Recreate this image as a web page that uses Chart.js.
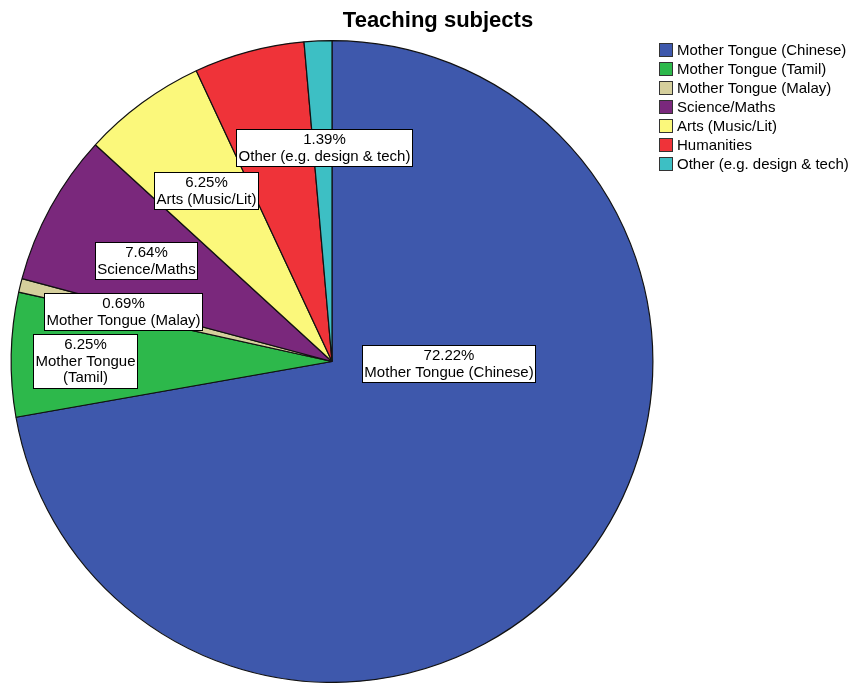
<!DOCTYPE html>
<html><head><meta charset="utf-8">
<script src="https://cdn.jsdelivr.net/npm/chart.js@4/dist/chart.umd.min.js"></script>
<style>html,body{margin:0;padding:0;background:#fff}canvas{display:block}</style>
</head><body>
<canvas id="c" width="855" height="683"></canvas>
<script>
const categories = ['Mother Tongue (Chinese)','Mother Tongue (Tamil)','Mother Tongue (Malay)','Science/Maths','Arts (Music/Lit)','Humanities','Other (e.g. design & tech)'];
const percentages = [72.22, 6.25, 0.69, 7.64, 6.25, 5.56, 1.39];
const colors = ['#3E58AC','#2DB84B','#D5CF9C','#7A287C','#FBF87B','#EF3339','#3DBFC4'];
// label display: lines of category name (null = label hidden), and placement as fraction of radius from center
const labelNameLines = [['Mother Tongue (Chinese)'],['Mother Tongue','(Tamil)'],['Mother Tongue (Malay)'],['Science/Maths'],['Arts (Music/Lit)'],null,['Other (e.g. design & tech)']];
const labelOffsets = [[0.364,0.006],[-0.769,-0.003],[-0.651,-0.156],[-0.579,-0.315],[-0.393,-0.533],null,[-0.025,-0.667]];

const FONT = '"Liberation Sans", Arial, sans-serif';

const overlay = {
  id: 'overlay',
  afterDraw(chart) {
    const ctx = chart.ctx;
    const meta = chart.getDatasetMeta(0);
    const arc0 = meta.data[0];
    const cx = arc0.x, cy = arc0.y, r = arc0.outerRadius;
    ctx.save();
    // Title
    ctx.fillStyle = '#000';
    ctx.font = 'bold 22px ' + FONT;
    ctx.textAlign = 'center';
    ctx.textBaseline = 'middle';
    ctx.fillText('Teaching subjects', 438, 21);
    // Slice labels
    ctx.font = '15px ' + FONT;
    const lh = 16.5;
    percentages.forEach((v, i) => {
      if (!labelNameLines[i]) return;
      const lines = [v.toFixed(2) + '%'].concat(labelNameLines[i]);
      const w = Math.max(...lines.map(l => ctx.measureText(l).width)) + 4;
      const h = lines.length * lh + 4;
      const x = cx + labelOffsets[i][0] * r, y = cy + labelOffsets[i][1] * r;
      const bx = Math.round(x - w / 2) + 0.5, by = Math.round(y - h / 2) + 0.5;
      ctx.fillStyle = '#fff';
      ctx.fillRect(bx, by, Math.round(w), Math.round(h));
      ctx.strokeStyle = '#000';
      ctx.lineWidth = 1;
      ctx.strokeRect(bx, by, Math.round(w), Math.round(h));
      ctx.fillStyle = '#000';
      lines.forEach((l, k) => ctx.fillText(l, bx + Math.round(w) / 2, by + 2.5 + lh / 2 + k * lh));
    });
    // Legend
    ctx.textAlign = 'left';
    ctx.font = '15px ' + FONT;
    chart.data.labels.forEach((lab, i) => {
      const y = 50 + i * 19;
      ctx.fillStyle = colors[i];
      ctx.fillRect(659.5, y - 6.5, 13, 13);
      ctx.strokeStyle = '#333';
      ctx.strokeRect(659.5, y - 6.5, 13, 13);
      ctx.fillStyle = '#000';
      ctx.fillText(lab, 677, y + 1);
    });
    ctx.restore();
  }
};

new Chart(document.getElementById('c'), {
  type: 'pie',
  data: {
    labels: categories,
    datasets: [{
      data: percentages,
      backgroundColor: colors,
      borderColor: '#111',
      borderWidth: 1.2
    }]
  },
  options: {
    responsive: false,
    animation: false,
    layout: { padding: { top: 40, bottom: 0, left: 10, right: 201 } },
    plugins: { legend: { display: false }, tooltip: { enabled: false }, title: { display: false } }
  },
  plugins: [overlay]
});
</script>
</body></html>
